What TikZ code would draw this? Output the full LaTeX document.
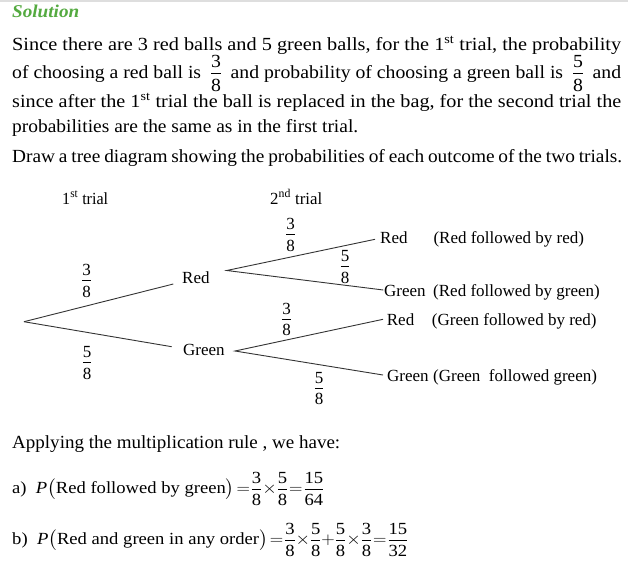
\RequirePackage{fix-cm}
\documentclass[tikz,border=0pt]{standalone}
\usepackage{amsmath}
\usepackage{graphicx}
\usepackage{fontspec}
\setmainfont{Liberation Serif}

\definecolor{solgreen}{RGB}{84,170,64}
\definecolor{rulegray}{RGB}{222,222,222}
% fraction set in the text font
\newcommand{\fr}[2]{\ensuremath{\vcenter{\offinterlineskip\halign{\hfil\rmfamily##\hfil\cr
    \rule{0pt}{0.68em}#1\cr\noalign{\kern0.28em\hrule height 0.5pt\kern0.28em}
    \rule{0pt}{0.68em}#2\cr}}}}
\newcommand{\fitw}[2]{\resizebox{#1}{\height}{#2}}

\begin{document}
\begin{tikzpicture}[x=1pt, y=-1pt,
    txt/.style={anchor=base west, inner sep=0pt, font=\fontsize{18.5}{22}\selectfont},
    lbl/.style={anchor=base west, inner sep=0pt, font=\fontsize{17}{20}\selectfont},
    frac/.style={inner sep=0pt, font=\fontsize{17}{20}\selectfont},
    eqn/.style={anchor=base west, inner sep=0pt, font=\fontsize{17}{20}\selectfont},
    branch/.style={line width=0.9pt, black!80}]

    \useasboundingbox (0,0) rectangle (628,573);
    \fill[white] (0,0) rectangle (628,573);
    \fill[rulegray] (0,0) rectangle (628,2);

    % Heading and explanation
    \node[txt, font=\fontsize{18}{22}\selectfont\bfseries\itshape, text=solgreen] (sol) at (12,17) {\fitw{67pt}{Solution}};
    \node[txt] (line1) at (12,50.7) {\fitw{609pt}{Since there are 3 red balls and 5 green balls, for the 1\textsuperscript{st} trial, the probability}};
    \node[txt] (line2) at (12,78) {\fitw{609pt}{of choosing a red ball is\hspace{0.5em}\fr{3}{8}\hspace{0.5em}and probability of choosing a green ball is\hspace{0.5em}\fr{5}{8}\hspace{0.5em}and}};
    \node[txt] (line3) at (12,107) {\fitw{609pt}{since after the 1\textsuperscript{st} trial the ball is replaced in the bag, for the second trial the}};
    \node[txt] (line4) at (12,132) {\fitw{346pt}{probabilities are the same as in the first trial.}};
    \node[txt] (line5) at (12,162) {\fitw{610pt}{\spaceskip=0.2em\relax Draw a tree diagram showing the probabilities of each outcome of the two trials.}};

    % Column headings
    \node[lbl] (head1) at (62,204) {\fitw{46pt}{1\textsuperscript{st} trial}};
    \node[lbl] (head2) at (270,204) {\fitw{52pt}{2\textsuperscript{nd} trial}};

    % Branch points
    \coordinate (root) at (24,321.7);
    \coordinate (r1in) at (173.3,284);
    \coordinate (g1in) at (171.7,346.7);
    \coordinate (r1out) at (226.7,270.5);
    \coordinate (rrin) at (375,239.3);
    \coordinate (rgin) at (383.3,290);
    \coordinate (g1out) at (235,351);
    \coordinate (grin) at (383,319.3);
    \coordinate (ggin) at (383,375);

    % Outcome labels
    \node[lbl] (red1) at (182,283) {Red};
    \node[lbl] (green1) at (183,355.7) {Green};
    \node[lbl] (rr) at (380,243) {Red};
    \node[lbl] (rrtext) at (433.3,243) {(Red followed by red)};
    \node[lbl] (rg) at (384,296.7) {Green};
    \node[lbl] (rgtext) at (433,296.7) {(Red followed by green)};
    \node[lbl] (gr) at (386.7,325) {Red};
    \node[lbl] (grtext) at (431.7,325) {(Green followed by red)};
    \node[lbl] (gg) at (387,381.7) {Green};
    \node[lbl] (ggtext) at (433,381.7) {(Green\ \ followed green)};

    % Branches
    \draw[branch] (root) -- (r1in);
    \draw[branch] (root) -- (g1in);
    \draw[branch] (rrin) -- (r1out) -- (rgin);
    \draw[branch] (grin) -- (g1out) -- (ggin);

    % Branch probabilities
    \node[frac] (p1) at (86.7,280.5) {\fr{3}{8}};
    \node[frac] (p2) at (87,362.5) {\fr{5}{8}};
    \node[frac] (p3) at (290.7,234.5) {\fr{3}{8}};
    \node[frac] (p4) at (345,266.5) {\fr{5}{8}};
    \node[frac] (p5) at (286.7,319.2) {\fr{3}{8}};
    \node[frac] (p6) at (319,388.3) {\fr{5}{8}};

    % Multiplication rule
    \node[txt] (apply) at (12,448.3) {\fitw{328pt}{Applying the multiplication rule , we have:}};
    \node[eqn] (eqa) at (12,493) {\fitw{311pt}{a)\ \ $\thickmuskip=2mu\medmuskip=1mu
        \text{\itshape P}\bigl(\text{Red followed by green}\bigr)=\fr{3}{8}\times\fr{5}{8}=\fr{15}{64}$}};
    \node[eqn] (eqb) at (12,544) {\fitw{395pt}{b)\ \ $\thickmuskip=2mu\medmuskip=1mu
        \text{\itshape P}\bigl(\text{Red and green in any order}\bigr)=\fr{3}{8}\times\fr{5}{8}+\fr{5}{8}\times\fr{3}{8}=\fr{15}{32}$}};
\end{tikzpicture}
\end{document}
